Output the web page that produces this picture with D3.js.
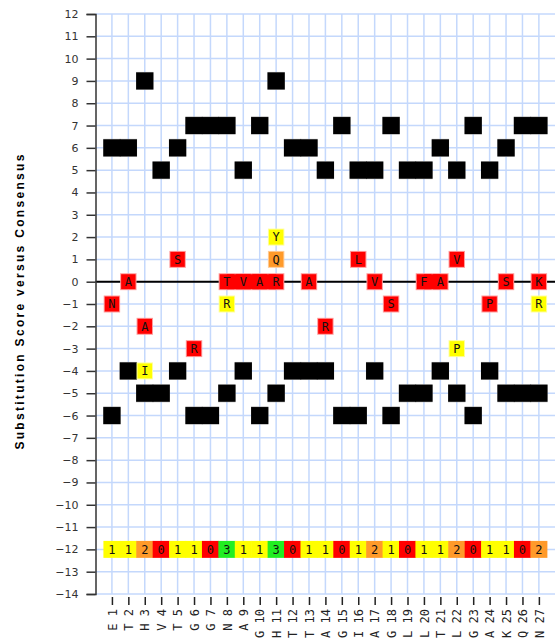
<!DOCTYPE html>
<html>
<head>
<meta charset="utf-8">
<script src="https://cdn.jsdelivr.net/npm/d3@7/dist/d3.min.js"></script>
<style>
  html, body { margin: 0; padding: 0; background: #fff; }
  svg { display: block; }
</style>
</head>
<body>
<svg id="chart" width="555" height="642"></svg>
<script>
// Consensus residues along the sequence (positions 1..27)
const residues = ["E","T","H","V","T","G","G","N","A","G","H","T","T","A","G","I","A","G","L","L","T","L","G","A","K","Q","N"];

// Best (positive) and worst (negative) substitution score per position
const bestScores  = [6,6,9,5,6,7,7,7,5,7,9,6,6,5,7,5,5,7,5,5,6,5,7,5,6,7,7];
const worstScores = [-6,-4,-5,-5,-4,-6,-6,-5,-4,-6,-5,-4,-4,-4,-6,-6,-4,-6,-5,-5,-4,-5,-6,-4,-5,-5,-5];

// Observed substitutions: position, residue, score versus consensus, frequency class
const substPos   = [1,2,3,3,5,6,8,9,10,11,8,11,11,13,14,16,17,18,20,21,22,22,24,25,27,27];
const substAA    = ["N","A","A","I","S","R","T","V","A","R","R","Y","Q","A","R","L","V","S","F","A","V","P","P","S","K","R"];
const substScore = [-1,0,-2,-4,1,-3,0,0,0,0,-1,2,1,0,-2,1,0,-1,0,0,1,-3,-1,0,0,-1];
const substClass = [0,0,0,1,0,0,0,0,0,0,1,1,2,0,0,0,0,0,0,0,0,1,0,0,0,1];

// Conservation count per position, shown in the row at score -12
const consCount = [1,1,2,0,1,1,0,3,1,1,3,0,1,1,0,1,2,1,0,1,1,2,0,1,1,0,2];
const consRow = -12;

const yTicks = d3.range(-14, 13);

const classFill   = ["#ff0000", "#ffff00", "#ff9a2a", "#22ee22"];
const classEdge   = ["#ff9a9a", "#ffff99", "#ffcc99", "#99ff99"];

const svg = d3.select("#chart");
const x = d3.scaleLinear().domain([0, 28]).range([95.5, 555.3]);
const y = d3.scaleLinear().domain([-14, 12]).range([594, 14]);
const cw = x(1) - x(0);
const ch = y(0) - y(0.76);

// Grid
const grid = svg.append("g").attr("stroke", "#c4d8fc").attr("stroke-width", 1.5);
grid.selectAll("line.h").data(yTicks).join("line")
  .attr("class", "h")
  .attr("x1", x(0)).attr("x2", 555)
  .attr("y1", d => y(d)).attr("y2", d => y(d));
grid.selectAll("line.v").data(d3.range(1, 28)).join("line")
  .attr("class", "v")
  .attr("x1", d => x(d)).attr("x2", d => x(d))
  .attr("y1", y(12)).attr("y2", y(-14));

// Zero line
svg.append("line")
  .attr("x1", x(0)).attr("x2", 555)
  .attr("y1", y(0)).attr("y2", y(0))
  .attr("stroke", "#000").attr("stroke-width", 2);

// Left axis
const yAxis = d3.axisLeft(y).tickValues(yTicks).tickSize(9).tickPadding(8)
  .tickFormat(d => d3.format("")(d).replace("-", "\u2212"));
const ga = svg.append("g").attr("transform", `translate(${x(0)},0)`).call(yAxis);
ga.select(".domain").attr("stroke", "#333").attr("stroke-width", 1.5);
ga.selectAll(".tick line").attr("stroke", "#333").attr("stroke-width", 1.5);
ga.selectAll(".tick text").attr("font-family", "'DejaVu Sans', Verdana, sans-serif")
  .attr("font-size", 11).attr("fill", "#333");

// Bottom axis: ticks and rotated residue labels
const xAxis = d3.axisBottom(x).tickValues(d3.range(1, 28)).tickSize(8).tickPadding(4)
  .tickFormat(d => residues[d - 1] + " " + d);
const gb = svg.append("g").attr("transform", `translate(0,${y(-14) + 3})`).call(xAxis);
gb.select(".domain").remove();
gb.selectAll(".tick line").attr("stroke", "#222").attr("stroke-width", 1.5);
gb.selectAll(".tick text")
  .attr("font-family", "'DejaVu Sans Mono', monospace").attr("font-size", 12).attr("fill", "#222")
  .attr("text-anchor", "end")
  .attr("transform", "rotate(-90)")
  .attr("x", -12).attr("y", 0).attr("dy", "0.35em");

// Score extremes (black cells); cells overlap slightly so neighbours join into one bar
const extremes = [];
residues.forEach((r, i) => {
  extremes.push({ p: i + 1, s: bestScores[i] });
  extremes.push({ p: i + 1, s: worstScores[i] });
});
const ge = svg.append("g");
ge.selectAll("rect.edge").data(extremes).join("rect")
  .attr("class", "edge")
  .attr("x", d => x(d.p) - cw / 2 - 0.5).attr("y", d => y(d.s) - ch / 2 - 0.5)
  .attr("width", cw + 1).attr("height", ch + 1)
  .attr("fill", "#999");
ge.selectAll("rect.cell").data(extremes).join("rect")
  .attr("class", "cell")
  .attr("x", d => x(d.p) - cw / 2 - 0.4).attr("y", d => y(d.s) - ch / 2)
  .attr("width", cw + 0.8).attr("height", ch)
  .attr("fill", "#000");

// Observed substitutions: light edge layer under the solid fill so neighbours merge
const subst = substPos.map((p, i) => ({ p, aa: substAA[i], s: substScore[i], c: substClass[i] }));
const gs = svg.append("g");
gs.selectAll("rect.edge").data(subst).join("rect")
  .attr("class", "edge")
  .attr("x", d => x(d.p) - cw / 2).attr("y", d => y(d.s) - ch / 2)
  .attr("width", cw).attr("height", ch)
  .attr("fill", d => classEdge[d.c]);
gs.selectAll("rect.cell").data(subst).join("rect")
  .attr("class", "cell")
  .attr("x", d => x(d.p) - cw / 2 + 1).attr("y", d => y(d.s) - ch / 2 + 1)
  .attr("width", cw - 2).attr("height", ch - 2)
  .attr("fill", d => classFill[d.c]);
// fill the seam between horizontally adjacent cells of the same class
gs.selectAll("rect.seam").data(subst.filter(d => subst.some(e => e.s === d.s && e.p === d.p + 1 && e.c === d.c))).join("rect")
  .attr("class", "seam")
  .attr("x", d => x(d.p)).attr("y", d => y(d.s) - ch / 2 + 1)
  .attr("width", cw).attr("height", ch - 2)
  .attr("fill", d => classFill[d.c]);
gs.selectAll("text").data(subst).join("text")
  .attr("x", d => x(d.p)).attr("y", d => y(d.s)).attr("dy", "0.36em")
  .attr("text-anchor", "middle")
  .attr("font-family", "'DejaVu Sans Mono', monospace").attr("font-size", 12).attr("fill", "#111")
  .text(d => d.aa);

// Conservation row
const gc = svg.append("g");
gc.selectAll("rect").data(consCount).join("rect")
  .attr("x", (d, i) => x(i + 1) - cw / 2 - 0.3).attr("y", y(consRow) - ch / 2)
  .attr("width", cw + 0.6).attr("height", ch)
  .attr("fill", d => classFill[d]);
gc.selectAll("text").data(consCount).join("text")
  .attr("x", (d, i) => x(i + 1)).attr("y", y(consRow)).attr("dy", "0.36em")
  .attr("text-anchor", "middle")
  .attr("font-family", "'DejaVu Sans Mono', monospace").attr("font-size", 12).attr("fill", "#111")
  .text(d => d);

// Y axis title
svg.append("text")
  .attr("transform", `translate(24,${(y(12) + y(-14)) / 2 - 3}) rotate(-90)`)
  .attr("text-anchor", "middle")
  .attr("font-family", "'Liberation Sans', Arial, sans-serif").attr("font-weight", "bold")
  .attr("font-size", 12).attr("letter-spacing", 2.3).attr("fill", "#000")
  .text("Substitution Score versus Consensus");
</script>
</body>
</html>
